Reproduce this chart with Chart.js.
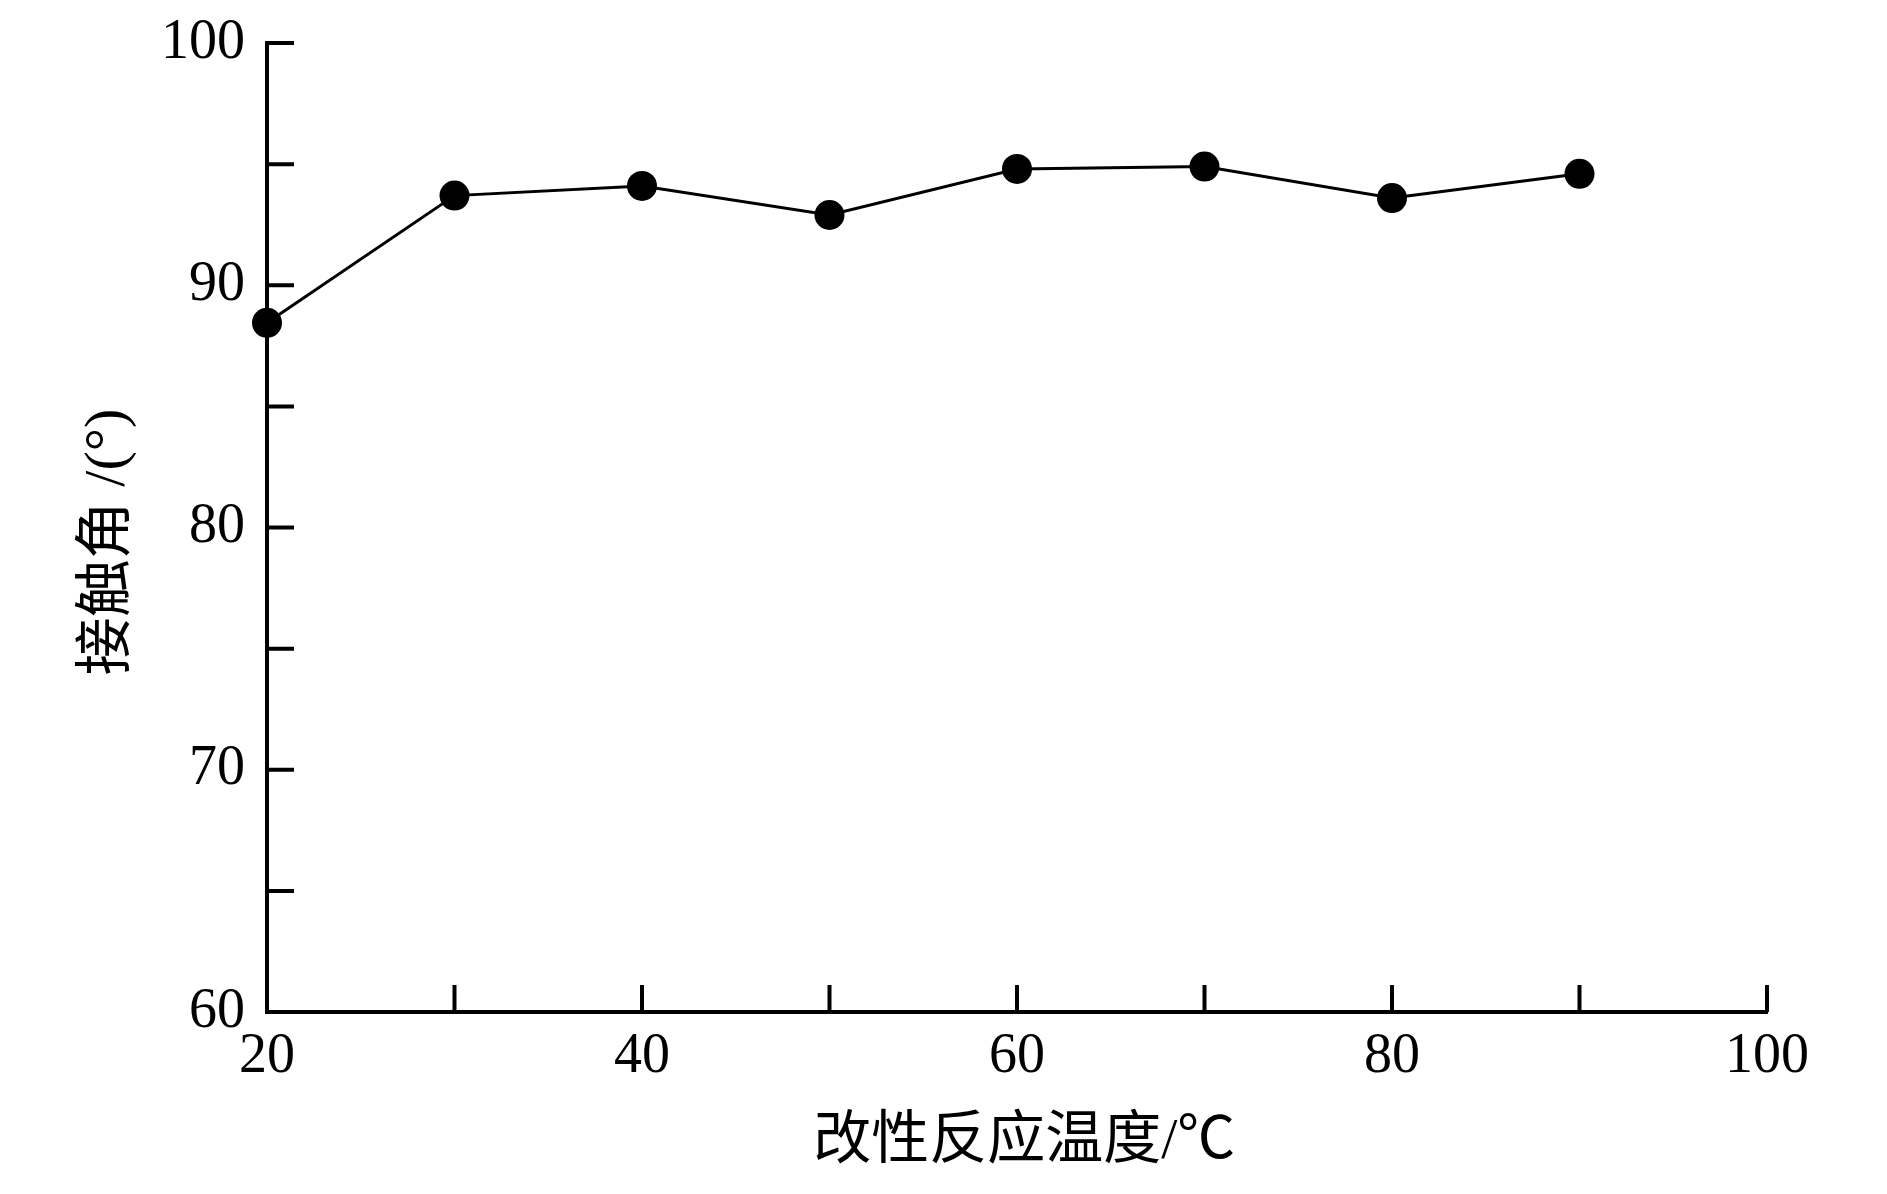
<!DOCTYPE html>
<html>
<head>
<meta charset="utf-8">
<title>接触角 vs 改性反应温度</title>
<script src="https://cdn.jsdelivr.net/npm/chart.js@4/dist/chart.umd.min.js"></script>
<style>
  html, body { margin: 0; padding: 0; background: #fff; }
  #wrap { width: 1887px; height: 1194px; }
</style>
</head>
<body>
<div id="wrap"><canvas id="chart" width="1887" height="1194"></canvas></div>
<script>
// ===== Data =====
const temps = [20, 30, 40, 50, 60, 70, 80, 90];
const angles = [88.45, 93.7, 94.1, 92.9, 94.8, 94.9, 93.6, 94.6];
const xLabelValues = [20, 40, 60, 80, 100];
const yLabelValues = [60, 70, 80, 90, 100];

const FONT = '"Liberation Serif", "Times New Roman", "Noto Sans CJK SC", serif';

// ===== Inward tick marks =====
const innerTicks = {
  id: 'innerTicks',
  beforeDatasetsDraw(chart) {
    const { ctx, scales: { x, y } } = chart;
    const len = 27;
    ctx.save();
    ctx.strokeStyle = '#000';
    ctx.lineWidth = 4;
    ctx.beginPath();
    x.ticks.forEach(t => {
      const px = x.getPixelForValue(t.value);
      ctx.moveTo(px, y.bottom);
      ctx.lineTo(px, y.bottom - len);
    });
    y.ticks.forEach(t => {
      const py = y.getPixelForValue(t.value);
      ctx.moveTo(x.left, py);
      ctx.lineTo(x.left + len, py);
    });
    ctx.stroke();
    ctx.restore();
  }
};

// ===== Chart =====
new Chart(document.getElementById('chart'), {
  type: 'line',
  data: {
    datasets: [{
      data: temps.map((t, i) => ({ x: t, y: angles[i] })),
      borderColor: '#000',
      backgroundColor: '#000',
      borderWidth: 3,
      pointRadius: 15,
      pointBackgroundColor: '#000',
      pointBorderWidth: 0,
      tension: 0,
      clip: false
    }]
  },
  options: {
    responsive: false,
    devicePixelRatio: 1,
    animation: false,
    layout: { padding: { top: 43, right: 120, bottom: 0, left: 0 } },
    plugins: { legend: { display: false }, tooltip: { enabled: false } },
    scales: {
      x: {
        type: 'linear',
        min: 20,
        max: 100,
        afterFit: s => { s.height = 182; },
        border: { display: true, color: '#000', width: 4 },
        grid: { display: true, drawOnChartArea: false, drawTicks: false },
        ticks: {
          stepSize: 10,
          autoSkip: false,
          maxRotation: 0,
          padding: 12,
          color: '#000',
          font: { family: FONT, size: 56 },
          callback: v => xLabelValues.includes(v) ? String(v) : ''
        },
        title: {
          display: true,
          text: ' 改性反应温度/℃',
          color: '#000',
          font: { family: FONT, size: 58 },
          padding: { top: 0, bottom: 16 }
        }
      },
      y: {
        min: 60,
        max: 100,
        afterFit: s => { s.width = 267; s.paddingTop = 0; s.paddingBottom = 0; },
        border: { display: true, color: '#000', width: 4 },
        grid: { display: true, drawOnChartArea: false, drawTicks: false },
        ticks: {
          stepSize: 5,
          autoSkip: false,
          padding: 22,
          color: '#000',
          font: { family: FONT, size: 56 },
          callback: v => yLabelValues.includes(v) ? String(v) : ''
        },
        title: {
          display: true,
          text: '接触角 /(°)  ',
          color: '#000',
          font: { family: FONT, size: 58 },
          padding: { top: 74, bottom: 0 }
        }
      }
    }
  },
  plugins: [innerTicks]
});
</script>
</body>
</html>
